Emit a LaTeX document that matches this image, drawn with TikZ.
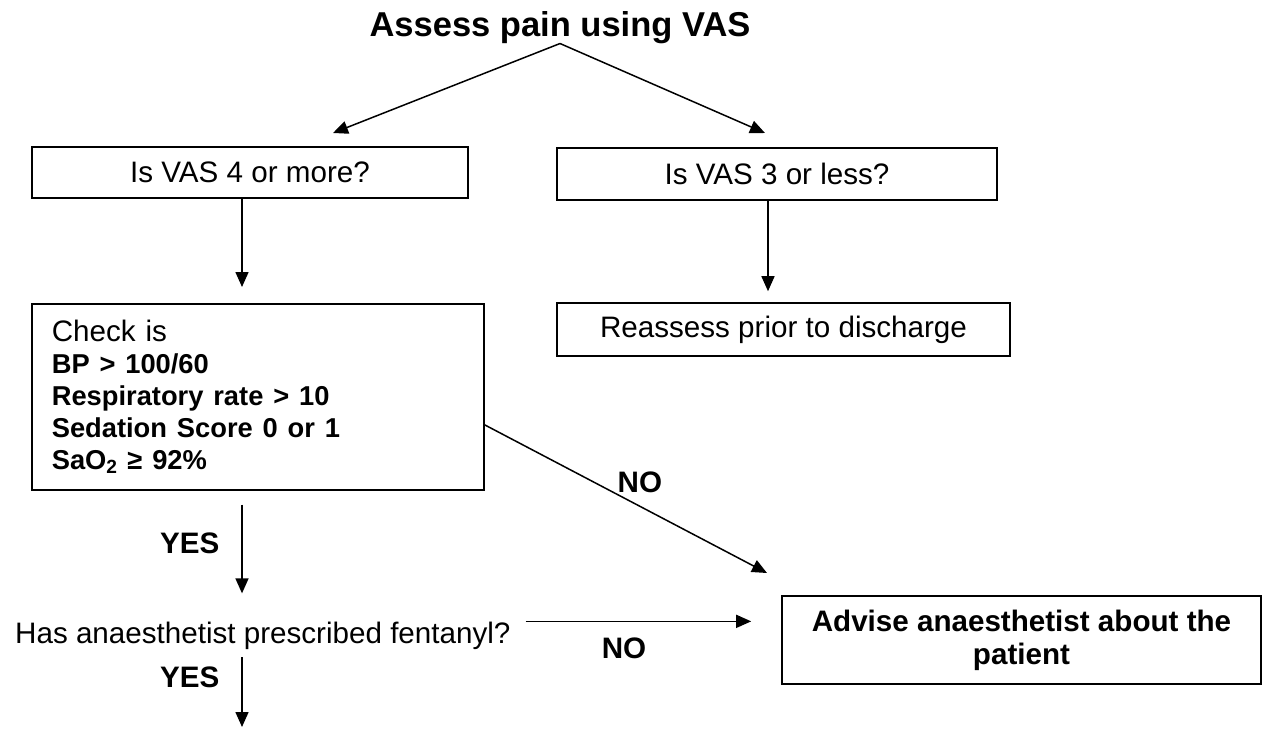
\documentclass[tikz,border=0pt]{standalone}
\usepackage{fontspec}
\setmainfont{Liberation Sans}
\usetikzlibrary{arrows.meta}

\begin{document}
\begin{tikzpicture}[x=1pt,y=-1pt,
  box/.style={draw,line width=1.6pt,inner sep=0pt,font=\fontsize{29.6}{32}\selectfont},
  arr/.style={-{Triangle[length=15pt,width=13pt]},line width=1.5pt},
  lbl/.style={font=\fontsize{29.6}{32}\selectfont\bfseries,inner sep=0pt}]
  \useasboundingbox (0,0) rectangle (1266,729);

  \node[font=\fontsize{34.5}{40}\selectfont\bfseries,inner sep=0pt,anchor=base] (title) at (560,36) {Assess pain using VAS};
  \node[box,minimum width=436pt,minimum height=51pt] (ask4) at (250,172.5) {Is VAS 4 or more?};
  \node[box,minimum width=440pt,minimum height=52pt] (ask3) at (777,174) {Is VAS 3 or less?};
  \node[box,minimum width=453pt,minimum height=53pt] (reass) at (783.5,329.5) {Reassess prior to discharge};
  \node[box,anchor=north west,minimum width=452pt,minimum height=186pt,text width=412pt,inner xsep=20pt,align=left] (check) at (31,303)
    {Check is\\
     \fontsize{27.3}{32}\selectfont\bfseries BP > 100/60\\
     Respiratory rate > 10\\
     Sedation Score 0 or 1\\
     SaO\textsubscript{2} ≥ 92\%};
  \node[inner sep=0pt,anchor=base west,font=\fontsize{29.6}{32}\selectfont] (fent) at (15,643) {Has anaesthetist prescribed fentanyl?};
  \node[box,font=\fontsize{29.6}{33}\selectfont\bfseries,minimum width=479pt,minimum height=88pt,align=center] (advise) at (1021.5,640)
    {Advise anaesthetist about the\\ patient};

  % free ends and columns
  \coordinate (colL) at (242,0);
  \coordinate (colR) at (768,0);
  \coordinate (tipL) at (333,133);
  \coordinate (tipR) at (765,133);
  \coordinate (tipNo) at (767,573);
  \coordinate (tipEnd) at (242,727);

  \draw[arr] (title.south) -- (tipL);
  \draw[arr] (title.south) -- (tipR);
  \draw[arr,shorten >=16pt] (ask4.south -| colL) -- (check.north -| colL);
  \draw[arr,shorten >=11pt] (ask3.south -| colR) -- (reass.north -| colR);
  \draw[arr] ([yshift=-28pt]check.east) -- (tipNo) node[lbl,pos=0.55,above=13pt] {NO};
  \draw[arr,shorten <=14pt,shorten >=28pt] (check.south -| colL) -- (fent.north -| colL) node[lbl,pos=0.4,left=22pt] {YES};
  \draw[arr,shorten >=30pt] ([xshift=15pt]fent.north east) -- (advise.west |- fent.north east) node[lbl,pos=0.385,below=16pt] {NO};
  \draw[arr,shorten <=8pt] (fent.south -| colL) -- (tipEnd) node[lbl,pos=0.36,left=22pt] {YES};
\end{tikzpicture}
\end{document}
